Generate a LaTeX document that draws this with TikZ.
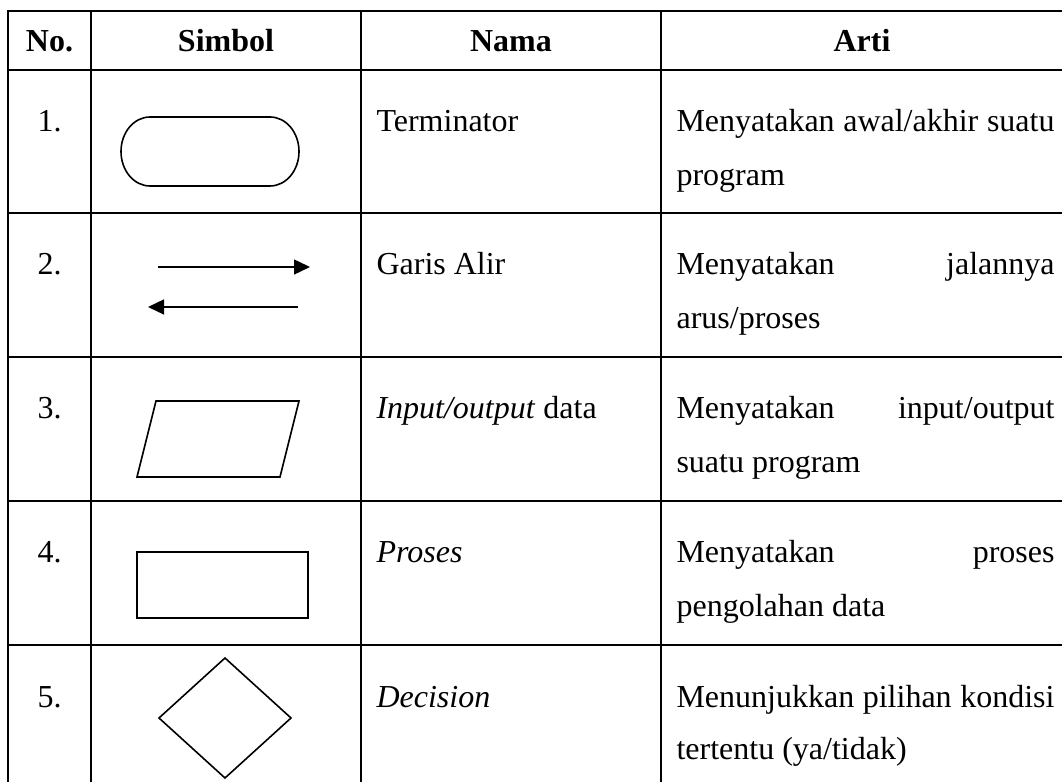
\documentclass[tikz,border=0pt]{standalone}
\usepackage{fontspec}
\setmainfont{Liberation Serif}
\usetikzlibrary{arrows.meta}
\tikzset{
  baseFont/.style={font=\fontsize{12pt}{14pt}\selectfont},
  tabLine/.style={draw=black, line width=0.7pt, line cap=rect},
  symShape/.style={draw=black, line width=0.6pt},
  headText/.style={font=\fontsize{12pt}{14pt}\selectfont\bfseries, inner sep=0pt, anchor=base},
  numText/.style={baseFont, inner sep=0pt, anchor=base},
  cellText/.style={baseFont, inner sep=0pt, anchor=base west},
  flowArrow/.style={draw=black, line width=0.6pt, -{Triangle[length=6pt,width=5.6pt]}}
}
\newcommand{\jline}[1]{\makebox[141.75pt][s]{#1}}

\begin{document}
\begin{tikzpicture}[x=0.375pt, y=-0.375pt]
  \useasboundingbox (0,0) rectangle (1062,782);
  \clip (0,0) rectangle (1062,782);

  % table grid
  \foreach \y in {11,70,213,357,501,645}
    \draw[tabLine] (8,\y) -- (1066,\y);
  \foreach \x in {8,91,361,661}
    \draw[tabLine] (\x,11) -- (\x,800);

  % header
  \node[headText] (hNo) at (49.5,52) {No.};
  \node[headText] (hSimbol) at (226,52) {Simbol};
  \node[headText] (hNama) at (511,52) {Nama};
  \node[headText] (hArti) at (862,52) {Arti};

  % numbers
  \foreach \n/\y in {1/132,2/275,3/419,4/563,5/707}
    \node[numText] (num\n) at (49.5,\y) {\n.};

  % names
  \node[cellText] (nama1) at (376,132) {Terminator};
  \node[cellText] (nama2) at (376,275) {Garis Alir};
  \node[cellText] (nama3) at (376,419) {\textit{Input/output} data};
  \node[cellText] (nama4) at (376,563) {\textit{Proses}};
  \node[cellText] (nama5) at (376,707) {\textit{Decision}};

  % meanings
  \node[cellText] (arti1a) at (676,132) {\jline{Menyatakan awal/akhir suatu}};
  \node[cellText] (arti1b) at (676,186) {program};
  \node[cellText] (arti2a) at (676,275) {\jline{Menyatakan\hfill jalannya}};
  \node[cellText] (arti2b) at (676,329) {arus/proses};
  \node[cellText] (arti3a) at (676,419) {\jline{Menyatakan\hfill input/output}};
  \node[cellText] (arti3b) at (676,473) {suatu program};
  \node[cellText] (arti4a) at (676,563) {\jline{Menyatakan\hfill proses}};
  \node[cellText] (arti4b) at (676,616) {pengolahan data};
  \node[cellText] (arti5a) at (676,707) {\jline{Menunjukkan pilihan kondisi}};
  \node[cellText] (arti5b) at (676,759) {tertentu (ya/tidak)};

  % terminator
  \draw[symShape] (150,117) -- (270,117)
    arc[start angle=-90, end angle=90, x radius=29, y radius=34.5]
    -- (150,186)
    arc[start angle=90, end angle=270, x radius=29, y radius=34.5] -- cycle;

  % flow lines
  \coordinate (flowA) at (158,267);
  \coordinate (flowB) at (310,267);
  \coordinate (flowC) at (298,307);
  \coordinate (flowD) at (148,307);
  \draw[flowArrow] (flowA) -- (flowB);
  \draw[flowArrow] (flowC) -- (flowD);

  % input/output
  \draw[symShape] (156,401) -- (299,401) -- (280,477) -- (137,477) -- cycle;

  % process
  \draw[symShape] (137,552) rectangle (308,618);

  % decision
  \draw[symShape] (225,658) -- (291,718) -- (225,778) -- (159,718) -- cycle;
\end{tikzpicture}
\end{document}
